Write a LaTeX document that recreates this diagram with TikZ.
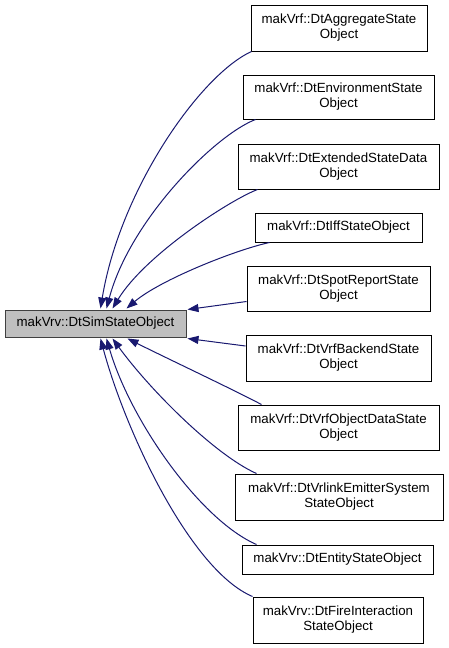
\documentclass[tikz,border=0pt]{standalone}
\usepackage{fontspec}
\setmainfont{Liberation Sans}
\usetikzlibrary{arrows.meta,calc}
\definecolor{edgeblue}{HTML}{191970}
\definecolor{mainfill}{HTML}{BFBFBF}
\definecolor{mainborder}{HTML}{404040}
\begin{document}
\begin{tikzpicture}[x=1pt,y=-1pt,
  every node/.style={font=\fontsize{13.3}{15}\selectfont, inner sep=0pt, align=center},
  cls/.style={draw=black, line width=1pt, fill=white},
  mainbox/.style={draw=mainborder, line width=1pt, fill=mainfill},
  inh/.style={draw=edgeblue, line width=1pt, -{Triangle[length=11pt,width=8pt]}, color=edgeblue}]
\useasboundingbox (0,0) rectangle (448,648);
\node[mainbox, minimum width=181pt, minimum height=27pt] (main) at (95.5,323.5) {makVrv::DtSimStateObject};
\node[cls, minimum width=176pt, minimum height=46pt] (b1) at (339,28) {makVrf::DtAggregateState\\Object};
\node[cls, minimum width=191pt, minimum height=44pt] (b2) at (338.5,97) {makVrf::DtEnvironmentState\\Object};
\node[cls, minimum width=201pt, minimum height=45pt] (b3) at (338.5,166.5) {makVrf::DtExtendedStateData\\Object};
\node[cls, minimum width=167pt, minimum height=29pt] (b4) at (338.5,227.5) {makVrf::DtIffStateObject};
\node[cls, minimum width=183pt, minimum height=45pt] (b5) at (338.5,288.5) {makVrf::DtSpotReportState\\Object};
\node[cls, minimum width=185pt, minimum height=46pt] (b6) at (338.5,358) {makVrf::DtVrfBackendState\\Object};
\node[cls, minimum width=201pt, minimum height=45pt] (b7) at (338.5,427.5) {makVrf::DtVrfObjectDataState\\Object};
\node[cls, minimum width=208pt, minimum height=46pt] (b8) at (339,497) {makVrf::DtVrlinkEmitterSystem\\StateObject};
\node[cls, minimum width=191pt, minimum height=29pt] (b9) at (337.5,559.5) {makVrv::DtEntityStateObject};
\node[cls, minimum width=170pt, minimum height=46pt] (b10) at (338,620) {makVrv::DtFireInteraction\\StateObject};
% edges from children to parent
\draw[inh] ($(b1.south west)+(1,0)$) .. controls (200,75) and (120,190) .. ($(main.north west)+(96,-1)$);
\draw[inh] ($(b2.south west)+(13,0)$) .. controls (215,135) and (130,220) .. ($(main.north west)+(102,-1)$);
\draw[inh] ($(b3.south west)+(20,0)$) .. controls (230,200) and (145,255) .. ($(main.north west)+(108,-1)$);
\draw[inh] ($(b4.south west)+(15,0)$) .. controls (235,250) and (160,280) .. ($(main.north west)+(122,-1)$);
\draw[inh] ($(b5.west)+(0,13)$) -- ($(main.north east)+(1,0)$);
\draw[inh] ($(b6.west)+(0,-12)$) -- ($(main.south east)+(1,1)$);
\draw[inh] ($(b7.north west)+(24,0)$) .. controls (230,388) and (160,355) .. ($(main.south west)+(123,1)$);
\draw[inh] ($(b8.north west)+(22,0)$) .. controls (215,455) and (150,390) .. ($(main.south west)+(108,1)$);
\draw[inh] ($(b9.north west)+(15,0)$) .. controls (200,520) and (130,420) .. ($(main.south west)+(102,1)$);
\draw[inh] ($(b10.north west)+(0,0)$) .. controls (190,570) and (125,430) .. ($(main.south west)+(96,1)$);
\end{tikzpicture}
\end{document}
